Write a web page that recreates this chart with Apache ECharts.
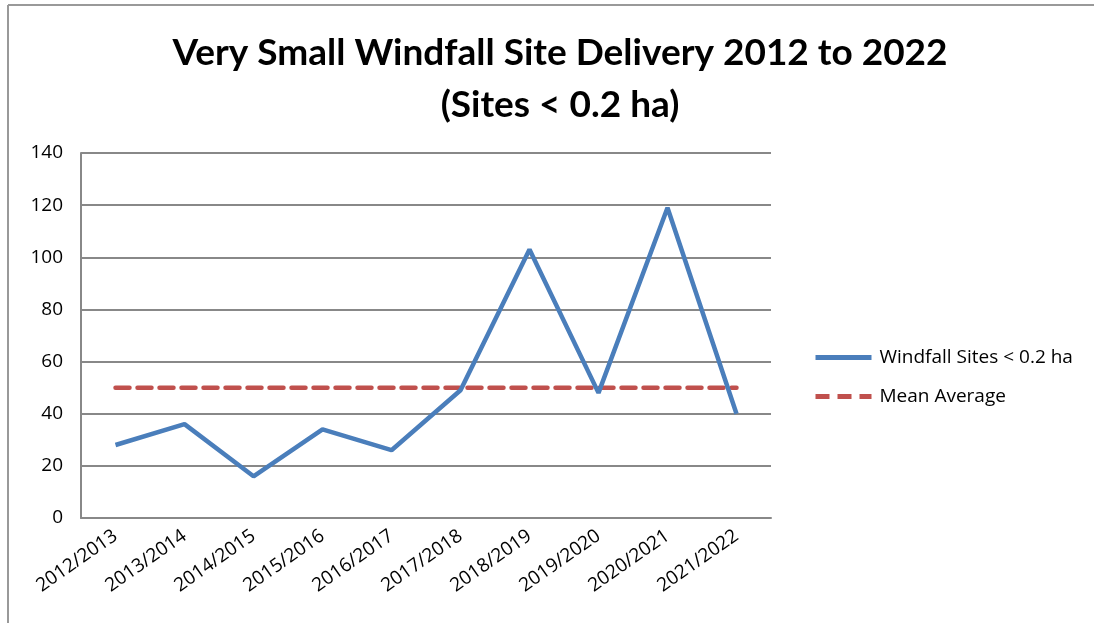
<!DOCTYPE html>
<html>
<head>
<meta charset="utf-8">
<script src="https://cdn.jsdelivr.net/npm/echarts@6/dist/echarts.min.js"></script>
<style>
  html, body { margin: 0; padding: 0; background: #fff; }
  #chart { width: 1094px; height: 623px; }
</style>
</head>
<body>
<div id="chart"></div>
<script>
// data
const years = ['2012/2013', '2013/2014', '2014/2015', '2015/2016', '2016/2017',
               '2017/2018', '2018/2019', '2019/2020', '2020/2021', '2021/2022'];
const windfallSites = [28, 36, 16, 34, 26, 49, 103, 48, 119, 40];
const meanAverage = [50, 50, 50, 50, 50, 50, 50, 50, 50, 50];
const yTicks = [0, 20, 40, 60, 80, 100, 120, 140];

const chart = echarts.init(document.getElementById('chart'));

const option = {
    animation: false,
    backgroundColor: '#fff',
    textStyle: { fontFamily: 'Open Sans' },
    title: {
        text: 'Very Small Windfall Site Delivery 2012 to 2022\n(Sites < 0.2 ha)',
        left: 555,
        top: 22,
        textAlign: 'center',
        textStyle: {
            fontFamily: 'Lato',
            fontSize: 37,
            fontWeight: 'bold',
            color: '#000',
            lineHeight: 52
        }
    },
    graphic: [
        { type: 'line', shape: { x1: 8, y1: 5, x2: 1094, y2: 5 }, style: { stroke: '#999', lineWidth: 2 } },
        { type: 'line', shape: { x1: 8, y1: 5, x2: 8, y2: 623 }, style: { stroke: '#999', lineWidth: 2 } }
    ],
    legend: {
        orient: 'vertical',
        left: 808,
        top: 343,
        itemWidth: 56,
        itemHeight: 14,
        itemGap: 20,
        itemStyle: { opacity: 0 },
        lineStyle: { width: 5, cap: 'butt' },
        textStyle: { fontSize: 19, color: '#000', fontFamily: 'Open Sans', padding: [0, 0, 0, 3] },
        data: [
            { name: 'Windfall Sites < 0.2 ha' },
            { name: 'Mean Average' }
        ]
    },
    grid: {
        left: 81,
        top: 153,
        width: 690,
        height: 365
    },
    xAxis: {
        type: 'category',
        data: years,
        boundaryGap: true,
        axisLine: { lineStyle: { color: '#888', width: 2 } },
        axisTick: { show: false },
        axisLabel: {
            rotate: 35,
            interval: 0,
            fontSize: 19,
            color: '#000',
            margin: 16
        }
    },
    yAxis: {
        type: 'value',
        min: yTicks[0],
        max: yTicks[yTicks.length - 1],
        interval: 20,
        axisLine: { show: true, lineStyle: { color: '#888', width: 2 } },
        axisTick: { show: false },
        axisLabel: { fontSize: 19, color: '#000', margin: 18 },
        splitLine: { lineStyle: { color: '#888', width: 2 } }
    },
    series: [
        {
            name: 'Windfall Sites < 0.2 ha',
            type: 'line',
            data: windfallSites,
            symbol: 'none',
            color: '#4a7ebb',
            lineStyle: { width: 4.5, color: '#4a7ebb' },
            z: 3
        },
        {
            name: 'Mean Average',
            type: 'line',
            data: meanAverage,
            symbol: 'none',
            color: '#c0504d',
            lineStyle: { width: 4.5, color: '#c0504d', type: [14, 8], cap: 'round' },
            z: 2
        }
    ]
};

chart.setOption(option);
</script>
</body>
</html>
